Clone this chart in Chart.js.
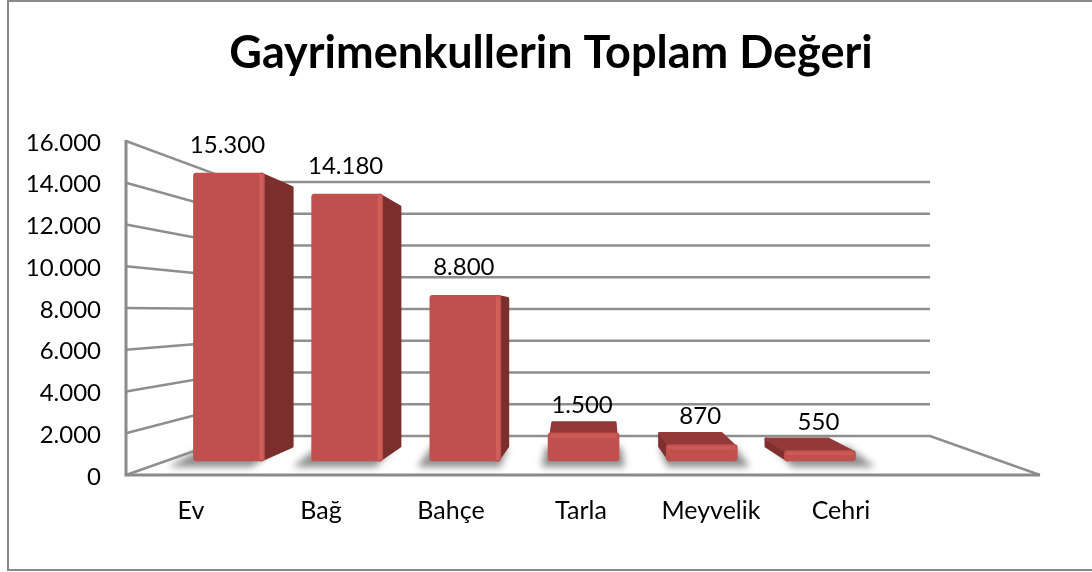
<!DOCTYPE html>
<html lang="tr">
<head>
<meta charset="utf-8">
<script src="https://cdn.jsdelivr.net/npm/chart.js@4"></script>
<style>
html,body{margin:0;padding:0;background:#fff;overflow:hidden}
canvas{display:block;filter:blur(0.4px)}
</style>
</head>
<body>
<canvas id="c" width="1092" height="572"></canvas>
<script>
const titleText = 'Gayrimenkullerin Toplam Değeri';
const categories = ['Ev', 'Bağ', 'Bahçe', 'Tarla', 'Meyvelik', 'Cehri'];
const values = [15300, 14180, 8800, 1500, 870, 550];
const FONT = 'Lato, Carlito, Calibri, sans-serif';
const fmt = v => String(v).replace(/\B(?=(\d{3})+(?!\d))/g, '.');
const LABEL_DROP = 2; // tick text sits slightly below its gridline in the reference

// perspective helpers (screen-space depth of the 3D box)
const backDx = x => x < 590 ? 0.088 * (590 - x) : 0.1 * (590 - x);
const backDy = y => 0.095 * (317 - y);
const back = (x, y) => [x + backDx(x), y + backDy(y)];
function poly(ctx, pts, fill) {
  ctx.beginPath();
  pts.forEach((p, i) => i ? ctx.lineTo(p[0], p[1]) : ctx.moveTo(p[0], p[1]));
  ctx.closePath();
  ctx.fillStyle = fill;
  ctx.fill();
}

const box3d = {
  id: 'box3d',
  beforeDraw(chart) {
    const ctx = chart.ctx;
    ctx.save();
    ctx.strokeStyle = '#8a8a8a';
    ctx.lineWidth = 2;
    ctx.strokeRect(8, 1, 1200, 569);
    ctx.restore();
  },
  beforeDatasetsDraw(chart) {
    const { ctx, chartArea: a, scales } = chart;
    const y = scales.y, yw = scales.yWall;
    const wallL = a.left + 111, wallR = 930, floorR = 1040;
    ctx.save();
    ctx.strokeStyle = '#8e8e8e';
    ctx.lineWidth = 2.4;
    y.ticks.forEach(t => {
      const yF = y.getPixelForValue(t.value) - LABEL_DROP, yB = yw.getPixelForValue(t.value);
      ctx.beginPath();
      ctx.moveTo(a.left, yF);
      ctx.lineTo(wallL, yB);
      ctx.lineTo(wallR, yB);
      if (t.value === 0) ctx.lineTo(floorR, yF);
      ctx.stroke();
    });
    ctx.strokeStyle = '#8a8a8a';
    ctx.lineWidth = 3;
    ctx.beginPath();
    ctx.moveTo(a.left, y.getPixelForValue(16000) - LABEL_DROP - 1);
    ctx.lineTo(a.left, y.getPixelForValue(0) - LABEL_DROP);
    ctx.lineTo(floorR, y.getPixelForValue(0) - LABEL_DROP);
    ctx.stroke();

    const bars = chart.getDatasetMeta(0).data;
    bars.forEach(b => {
      const r = b.getProps(['x', 'y', 'base', 'width'], true);
      const l = r.x - r.width / 2, rt = r.x + r.width / 2, yb = r.base;
      const sx = -0.6 * backDx(r.x);
      ctx.save();
      ctx.filter = 'blur(3.5px)';
      poly(ctx, [
        [l + sx - 6, yb + 6], [rt + sx + 6, yb + 6],
        [back(rt, yb)[0] + sx + 6, back(rt, yb)[1]],
        [back(l, yb)[0] + sx - 6, back(l, yb)[1]]
      ], '#8f8f8f');
      ctx.restore();
    });
    bars.forEach(b => {
      const r = b.getProps(['x', 'y', 'base', 'width'], true);
      const l = r.x - r.width / 2, rt = r.x + r.width / 2, yt = r.y, yb = r.base;
      const blt = back(l, yt), brt = back(rt, yt), blb = back(l, yb), brb = back(rt, yb);
      ctx.save();
      ctx.lineJoin = 'round';
      ctx.lineWidth = 3;
      const side = (pts, c) => { poly(ctx, pts, c); ctx.strokeStyle = c; ctx.stroke(); };
      if (brt[0] > rt) side([[rt - 3, yt + 1], [brt[0] - 1, brt[1] + 1], [brb[0] - 1, brb[1] - 1], [rt - 3, yb - 1]], '#7a2f2d');
      if (blt[0] < l) side([[l + 3, yt + 1], [blt[0] + 1, blt[1] + 1], [blb[0] + 1, blb[1] - 1], [l + 3, yb - 1]], '#7f302e');
      if (brt[1] < yt) {
        const top = [[l + 3, yt + 1], [rt - 3, yt + 1], [brt[0] - 1, brt[1] + 1], [blt[0] + 1, blt[1] + 1]];
        side(top, '#93393a');
      }
      ctx.restore();
    });
    ctx.restore();
  },
  afterDatasetsDraw(chart) {
    const ctx = chart.ctx;
    const bars = chart.getDatasetMeta(0).data;
    ctx.save();
    bars.forEach((b, i) => {
      const r = b.getProps(['x', 'y', 'base', 'width'], true);
      const rt = r.x + r.width / 2, h = r.base - r.y;
      if (h > 60) {
        ctx.fillStyle = '#d05f5b';
        ctx.fillRect(rt - 5, r.y + 1, 4, h - 2);
      } else {
        ctx.fillStyle = '#ca5a56';
        ctx.fillRect(r.x - r.width / 2 + 2, r.y + 1, r.width - 4, Math.min(4, h / 3));
      }
      ctx.fillStyle = '#000';
      ctx.font = '24px ' + FONT;
      ctx.textAlign = 'center';
      ctx.textBaseline = 'middle';
      ctx.fillText(fmt(values[i]), r.x - 1.5, r.y - 28);
    });
    ctx.restore();
  }
};

new Chart(document.getElementById('c'), {
  type: 'bar',
  data: {
    labels: categories,
    datasets: [{
      label: 'Toplam Değer',
      data: values.map((v, i) => ({ x: i, y: v })),
      xAxisID: 'xBar',
      yAxisID: 'yBar',
      backgroundColor: '#c0504d',
      borderRadius: 3,
      borderSkipped: false,
      barThickness: 71
    }]
  },
  options: {
    responsive: false,
    animation: false,
    events: [],
    layout: { padding: { left: 10, right: 0, top: 0, bottom: 0 } },
    plugins: {
      legend: { display: false },
      tooltip: { enabled: false },
      title: {
        display: true,
        text: titleText,
        color: '#000',
        font: { family: FONT, size: 45, weight: 'bold', lineHeight: 1.2 },
        padding: { top: 26, bottom: 63 }
      }
    },
    scales: {
      x: {
        type: 'category',
        position: 'bottom',
        grid: { display: false, drawTicks: false },
        border: { display: false },
        ticks: { color: '#000', font: { family: FONT, size: 25 }, padding: 19, maxRotation: 0, autoSkip: false },
        afterFit(s) { s.height = 95; }
      },
      y: {
        type: 'linear',
        position: 'left',
        min: 0,
        max: 16000,
        grid: { display: false, drawTicks: false },
        border: { display: false },
        ticks: { stepSize: 2000, color: '#000', font: { family: FONT, size: 24 }, padding: 25, callback: v => fmt(v) },
        afterFit(s) { s.width = 116; }
      },
      yWall: {
        type: 'linear',
        position: 'right',
        min: -2583,
        max: 18457,
        grid: { display: false, drawTicks: false },
        border: { display: false },
        ticks: { display: false },
        afterFit(s) { s.width = 186; }
      },
      xBar: { type: 'linear', display: false, offset: false, min: -0.871, max: 5.728, grid: { offset: false } },
      yBar: { type: 'linear', display: false, min: -850, max: 16897 }
    }
  },
  plugins: [box3d]
});
</script>
</body>
</html>
